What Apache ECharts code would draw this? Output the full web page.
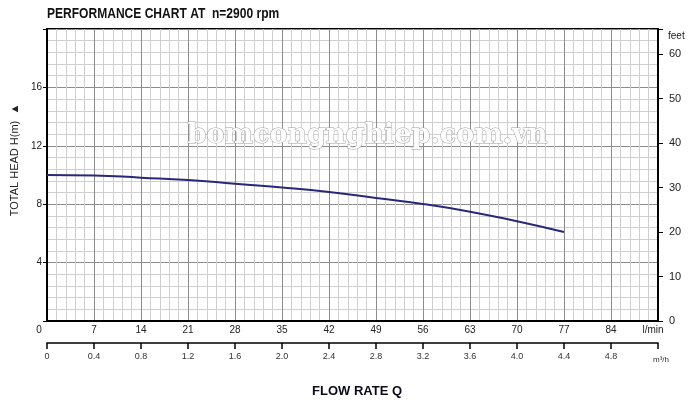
<!DOCTYPE html>
<html>
<head>
<meta charset="utf-8">
<script src="https://cdn.jsdelivr.net/npm/echarts@6/dist/echarts.min.js"></script>
<style>
html,body{margin:0;padding:0;background:#fff;}
#chart{width:700px;height:407px;}
</style>
</head>
<body>
<div id="chart"></div>
<script>
// Data
const flowLmin = [0, 7, 14, 21, 28, 35, 42, 49, 56, 63, 70, 77];
const headM    = [10.0, 9.97, 9.82, 9.66, 9.4, 9.14, 8.83, 8.43, 8.02, 7.49, 6.83, 6.1];
const lminTicks = [0, 7, 14, 21, 28, 35, 42, 49, 56, 63, 70, 77, 84];
const m3hTicks  = ['0', '0.4', '0.8', '1.2', '1.6', '2.0', '2.4', '2.8', '3.2', '3.6', '4.0', '4.4', '4.8'];
const headTicks = [4, 8, 12, 16];
const feetTicks = [0, 10, 20, 30, 40, 50, 60];
const titleText = 'PERFORMANCE CHART AT  n=2900 rpm';
const xTitle = 'FLOW RATE Q';
const yTitle = 'TOTAL HEAD H(m)  \u25B2';
const watermark = 'bomcongnghiep.com.vn';

const chart = echarts.init(document.getElementById('chart'));
const lblFont = 'Liberation Sans, Arial, sans-serif';

chart.setOption({
  animation: false,
  backgroundColor: '#fff',
  grid: { left: 47, right: 42, top: 29, bottom: 86, show: true, borderColor: '#000', borderWidth: 2, containLabel: false },
  xAxis: [
    {
      type: 'value', min: 0, max: 91, interval: 7, position: 'bottom',
      axisLine: { show: true, onZero: false, lineStyle: { color: '#000', width: 2 } },
      axisTick: { show: false },
      axisLabel: {
        color: '#222', fontFamily: lblFont, fontSize: 10, margin: 4,
        formatter: function (v) {
          if (v === 91) return '{u|l/min}';
          if (v === 0) return '{z|0}';
          return lminTicks.indexOf(v) >= 0 ? String(v) : '';
        },
        rich: { z: { padding: [0, 16, 0, 0], fontSize: 10, color: '#222' }, u: { padding: [0, 10, 0, 0], fontSize: 10, color: '#222' } }
      },
      splitLine: { show: true, lineStyle: { color: '#8c8c8c', width: 1 } },
      minorTick: { show: false, splitNumber: 5 },
      minorSplitLine: { show: true, lineStyle: { color: '#cfcfcf', width: 1 } }
    },
    {
      type: 'value', min: 0, max: 5.2, interval: 0.4, position: 'bottom', offset: 22,
      axisLine: { show: true, onZero: false, lineStyle: { color: '#000', width: 1.5 } },
      axisTick: { show: true, inside: false, length: 6, lineStyle: { color: '#000', width: 1.5 } },
      axisLabel: {
        color: '#333', fontFamily: lblFont, fontSize: 9, margin: 9,
        formatter: function (v, i) {
          if (i < m3hTicks.length) return m3hTicks[i];
          return '{u|m\u00B3/h}';
        },
        rich: { u: { fontSize: 8, color: '#333', padding: [4, 0, 0, 6] } }
      },
      splitLine: { show: false }
    }
  ],
  yAxis: [
    {
      type: 'value', min: 0, max: 20, interval: 4, position: 'left',
      name: yTitle, nameLocation: 'middle', nameGap: 23, nameRotate: 90,
      nameTextStyle: { fontFamily: lblFont, fontSize: 11, color: '#222', padding: [0, 0, 0, 30] },
      axisLine: { show: true, onZero: false, lineStyle: { color: '#000', width: 2 } },
      axisTick: { show: true, length: 4, lineStyle: { color: '#000' } },
      axisLabel: {
        color: '#222', fontFamily: lblFont, fontSize: 10, margin: 5,
        formatter: function (v) { return headTicks.indexOf(v) >= 0 ? String(v) : ''; }
      },
      splitLine: { show: true, lineStyle: { color: '#8c8c8c', width: 1 } },
      minorTick: { show: false, splitNumber: 5 },
      minorSplitLine: { show: true, lineStyle: { color: '#cfcfcf', width: 1 } }
    },
    {
      type: 'value', min: 0, max: 65.616, interval: 10, position: 'right',
      name: 'feet', nameLocation: 'end', nameGap: -12,
      nameTextStyle: { fontFamily: lblFont, fontSize: 10, color: '#222', align: 'left', padding: [0, 0, 0, 10] },
      axisLine: { show: true, onZero: false, lineStyle: { color: '#000', width: 2 } },
      axisTick: { show: true, length: 5, lineStyle: { color: '#000' } },
      axisLabel: {
        color: '#222', fontFamily: lblFont, fontSize: 11, margin: 11,
        formatter: function (v) { return feetTicks.indexOf(v) >= 0 ? String(v) : ''; }
      },
      splitLine: { show: false }
    }
  ],
  series: [
    {
      type: 'line', xAxisIndex: 0, yAxisIndex: 0,
      data: flowLmin.map((q, i) => [q, headM[i]]),
      smooth: true, showSymbol: false, symbol: 'none',
      lineStyle: { color: '#28287a', width: 2 }
    }
  ],
  graphic: [
    {
      type: 'text', x: 47, y: 7, scaleX: 0.86,
      style: { text: titleText, font: 'bold 14px "Liberation Sans", Arial, sans-serif', fill: '#111' }
    },
    {
      type: 'text', left: 187, top: 122, z: 100,
      style: {
        text: watermark,
        font: 'bold 27px "DejaVu Serif", serif',
        fill: '#ffffff', stroke: '#a0a0a0', lineWidth: 1,
        shadowColor: 'rgba(0,0,0,0.45)', shadowBlur: 4, shadowOffsetX: 1, shadowOffsetY: 1
      }
    },
    {
      type: 'text', left: 312, top: 385,
      style: { text: xTitle, font: 'bold 13px "Liberation Sans", Arial, sans-serif', fill: '#0a0a1a' }
    }
  ]
});
</script>
</body>
</html>
